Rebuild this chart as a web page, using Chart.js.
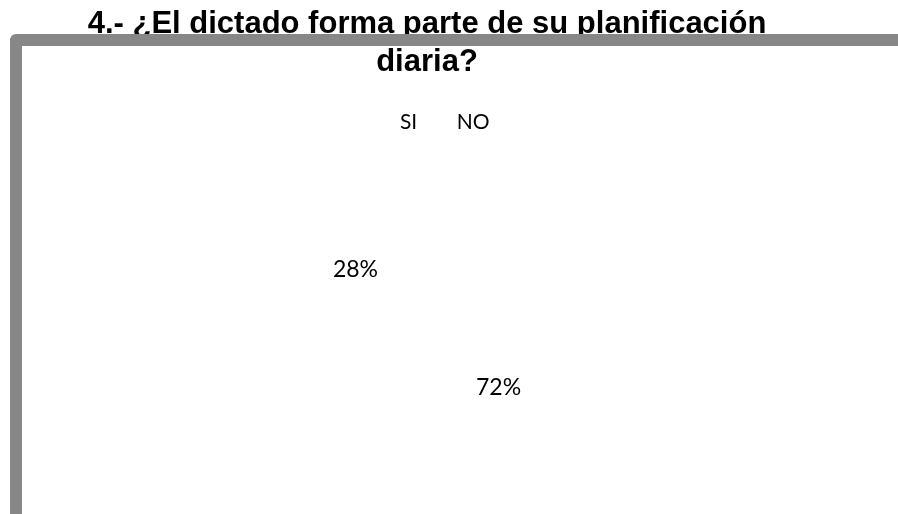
<!DOCTYPE html>
<html>
<head>
<meta charset="utf-8">
<script src="https://cdn.jsdelivr.net/npm/chart.js@4/dist/chart.umd.min.js"></script>
<style>
  html, body { margin: 0; padding: 0; background: #fff; }
  #wrap { width: 898px; height: 514px; position: relative; }
</style>
</head>
<body>
<div id="wrap"><canvas id="c"></canvas></div>
<script>
// data
const categories = ["SI", "NO"];
const percentages = [28, 72];
const titleLines = ["4.- ¿El dictado forma parte de su planificación", "diaria?"];

const sliceColor = "#ffffff";
const frameColor = "#878787";

// percent labels at the middle of each slice
const sliceLabels = {
  id: "sliceLabels",
  afterDatasetsDraw(chart) {
    const ctx = chart.ctx;
    const meta = chart.getDatasetMeta(0);
    ctx.save();
    ctx.font = "23px Lato";
    ctx.fillStyle = "#000";
    ctx.textAlign = "center";
    ctx.textBaseline = "middle";
    meta.data.forEach((arc, i) => {
      const p = arc.tooltipPosition();
      ctx.fillText(percentages[i] + "%", p.x, p.y);
    });
    ctx.restore();
  }
};

// grey frame drawn over the title, like the original
const frame = {
  id: "frame",
  afterDraw(chart) {
    const ctx = chart.ctx;
    ctx.save();
    ctx.strokeStyle = frameColor;
    ctx.lineWidth = 12;
    ctx.lineJoin = "round";
    ctx.strokeRect(16, 40, chart.width + 40, chart.height + 40);
    ctx.restore();
  }
};

new Chart(document.getElementById("c"), {
  type: "pie",
  data: {
    labels: categories,
    datasets: [{
      data: percentages,
      backgroundColor: sliceColor,
      borderColor: sliceColor,
      borderWidth: 0
    }]
  },
  options: {
    responsive: true,
    maintainAspectRatio: false,
    animation: false,
    rotation: -percentages[0] * 3.6,
    layout: { padding: { top: 6, bottom: 0, left: 0, right: 44 } },
    plugins: {
      title: {
        display: true,
        text: titleLines,
        color: "#000",
        font: { family: "Liberation Sans", size: 31, weight: "bold", lineHeight: 1.22 },
        padding: { top: 0, bottom: 26 }
      },
      legend: {
        display: true,
        position: "top",
        labels: {
          color: "#000",
          font: { family: "Lato", size: 21 },
          boxWidth: 25,
          boxHeight: 10,
          padding: 4,
          generateLabels: (chart) => categories.map((c, i) => ({
            text: c,
            fillStyle: sliceColor,
            strokeStyle: sliceColor,
            lineWidth: 0,
            index: i
          }))
        }
      },
      tooltip: { enabled: false }
    }
  },
  plugins: [sliceLabels, frame]
});
</script>
</body>
</html>
